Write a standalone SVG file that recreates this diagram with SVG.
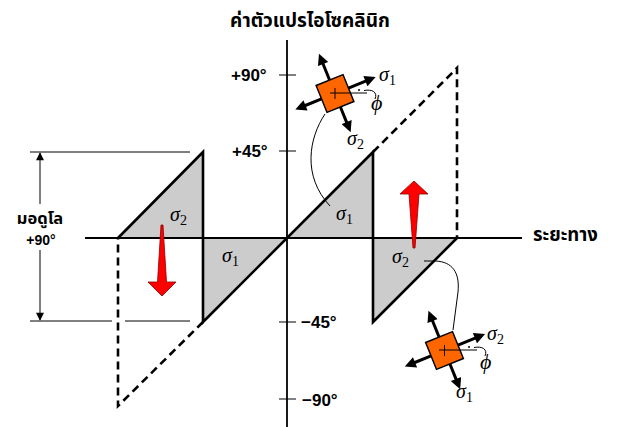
<svg xmlns="http://www.w3.org/2000/svg" width="618" height="427" viewBox="0 0 618 427">
<style>
.thai{font-family:Tahoma,"Noto Sans Thai","Leelawadee UI","Loma","Liberation Sans",sans-serif;font-weight:bold;fill:#000}
.deg{font-family:"Liberation Sans",Arial,sans-serif;font-weight:bold;font-size:17px;fill:#000}
.sig{font-family:"Liberation Serif","Times New Roman",serif;font-style:italic;font-size:20px;fill:#000}
.sub{font-style:normal;font-size:14px}
.main{stroke:#000;stroke-width:2.6;fill:none;stroke-linejoin:miter}
.dash{stroke:#000;stroke-width:2.6;fill:none;stroke-dasharray:8 5}
.axis{stroke:#000;stroke-width:1.8;fill:none}
.thin{stroke:#000;stroke-width:1;fill:none}
.tri{fill:#cccccc;stroke:none}
.sq{fill:#ff6600;stroke:#000;stroke-width:1.5}
.sarrow{stroke:#000;stroke-width:3;fill:none}
.red{fill:#ff0000;stroke:#8b0000;stroke-width:0.8;stroke-linejoin:round}
</style>
<defs>
<marker id="ah" viewBox="0 0 10 10" refX="2" refY="5" markerWidth="12" markerHeight="11" markerUnits="userSpaceOnUse" orient="auto">
<path d="M0,0 L10,5 L0,10 Z" fill="#000"/>
</marker>
<marker id="dh" viewBox="0 0 10 10" refX="9" refY="5" markerWidth="11" markerHeight="8" markerUnits="userSpaceOnUse" orient="auto-start-reverse">
<path d="M0,0 L10,5 L0,10 Z" fill="#000"/>
</marker>
</defs>

<text class="thai" x="310" y="27" font-size="19" text-anchor="middle">ค่าตัวแปรไอโซคลินิก</text>

<g id="fills">
<polygon class="tri" points="118,238 203,152 203,238"/>
<polygon class="tri" points="203,238 288,238 203,322"/>
<polygon class="tri" points="288,238 373,152 373,238"/>
<polygon class="tri" points="373,238 457,238 373,322"/>
</g>

<g id="axes">
<line class="axis" x1="85" y1="238" x2="522" y2="238"/>
<line class="axis" x1="287" y1="40" x2="287" y2="427"/>
<line class="thin" x1="279" y1="75" x2="296" y2="75"/>
<line class="thin" x1="279" y1="151" x2="296" y2="151"/>
<line class="thin" x1="279" y1="322" x2="296" y2="322"/>
<line class="thin" x1="279" y1="399" x2="296" y2="399"/>
</g>

<g id="labels">
<text class="deg" x="231" y="81">+90°</text>
<text class="deg" x="232" y="157">+45°</text>
<text class="deg" x="301" y="328">−45°</text>
<text class="deg" x="302" y="406">−90°</text>
<text class="thai" x="533" y="241" font-size="18.5">ระยะทาง</text>
</g>

<g id="modulo">
<line class="thin" x1="30" y1="152" x2="190" y2="152"/>
<line class="thin" x1="30" y1="321" x2="112" y2="321"/>
<line class="thin" x1="125" y1="321" x2="190" y2="321"/>
<line class="thin" x1="40" y1="153" x2="40" y2="204" marker-start="url(#dh)"/>
<line class="thin" x1="40" y1="250" x2="40" y2="320" marker-end="url(#dh)"/>
<text class="thai" x="40" y="224" font-size="16.5" text-anchor="middle">มอดูโล</text>
<text class="deg" x="41" y="245" text-anchor="middle" style="font-size:14px">+90°</text>
</g>

<g id="connectors">
<polyline class="main" points="118,238 203,152 203,322 373,152 373,322 457,238"/>
<polyline class="dash" points="373,152 457,68 457,238"/>
<polyline class="dash" points="203,322 118,406 118,238"/>
</g>

<g id="sigmas">
<text class="sig" x="170" y="221">σ<tspan class="sub" dy="4">2</tspan></text>
<text class="sig" x="222" y="262">σ<tspan class="sub" dy="4">1</tspan></text>
<text class="sig" x="336" y="220">σ<tspan class="sub" dy="4">1</tspan></text>
<text class="sig" x="392" y="263">σ<tspan class="sub" dy="4">2</tspan></text>
</g>

<g id="redArrows">
<polygon class="red" points="161,225 163,225 166.5,282 176,282 162,296 148,282 157.5,282"/>
<polygon class="red" points="414,181 428,194 419,194 415,248 413,248 409,194 400,194"/>
</g>

<g id="elementTop">
<path class="thin" d="M325,114 C309,138 302,176 330,206"/>
<g transform="translate(335,93.5) rotate(-22)">
<line class="sarrow" x1="14.5" y1="0" x2="35" y2="0" marker-end="url(#ah)"/>
<line class="sarrow" x1="-14.5" y1="0" x2="-34" y2="0" marker-end="url(#ah)"/>
<line class="sarrow" x1="0" y1="-14.5" x2="0" y2="-34" marker-end="url(#ah)"/>
<line class="sarrow" x1="0" y1="14.5" x2="0" y2="33" marker-end="url(#ah)"/>
<rect class="sq" x="-14.5" y="-14.5" width="29" height="29"/>
</g>
<line class="thin" x1="330" y1="93" x2="367" y2="93"/>
<line class="thin" x1="335" y1="88" x2="335" y2="99"/>
<circle cx="359" cy="90" r="1" fill="#000"/>
<path class="thin" d="M364,90.5 C372,89 378,92 375,99"/>
<text class="sig" x="379" y="81">σ<tspan class="sub" dy="4">1</tspan></text>
<text class="sig" x="347" y="145">σ<tspan class="sub" dy="4">2</tspan></text>
<text class="sig" x="371" y="110" style="font-size:22px">ϕ</text>
</g>

<g id="elementBottom">
<path class="thin" d="M424,261 L436,261 C452,262 460,272 458,292 L453,330"/>
<g transform="translate(444.5,350.5) rotate(-22)">
<line class="sarrow" x1="14.5" y1="0" x2="35" y2="0" marker-end="url(#ah)"/>
<line class="sarrow" x1="-14.5" y1="0" x2="-34" y2="0" marker-end="url(#ah)"/>
<line class="sarrow" x1="0" y1="-14.5" x2="0" y2="-34" marker-end="url(#ah)"/>
<line class="sarrow" x1="0" y1="14.5" x2="0" y2="33" marker-end="url(#ah)"/>
<rect class="sq" x="-14.5" y="-14.5" width="29" height="29"/>
</g>
<line class="thin" x1="439" y1="350" x2="477" y2="350"/>
<line class="thin" x1="444.5" y1="345" x2="444.5" y2="356"/>
<circle cx="469" cy="347" r="1" fill="#000"/>
<path class="thin" d="M474,347.5 C482,346 488,349 485,356"/>
<text class="sig" x="487" y="340">σ<tspan class="sub" dy="4">2</tspan></text>
<text class="sig" x="456" y="398">σ<tspan class="sub" dy="4">1</tspan></text>
<text class="sig" x="480" y="369" style="font-size:22px">ϕ</text>
</g>
</svg>
